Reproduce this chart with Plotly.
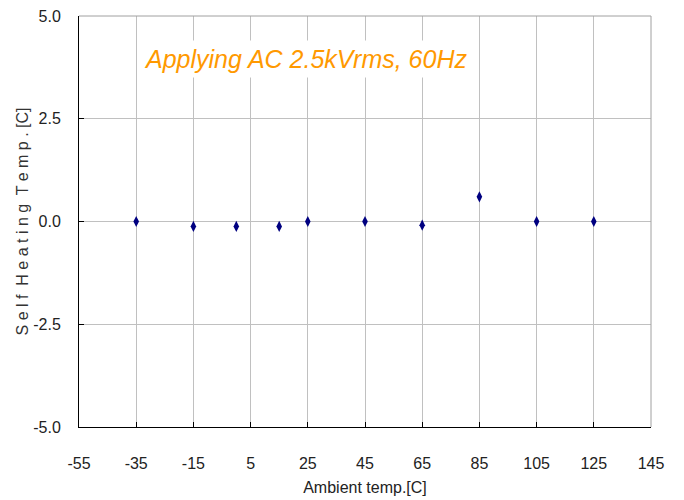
import plotly.graph_objects as go

ambient_temp = [-35, -15, 0, 15, 25, 45, 65, 85, 105, 125]
self_heating = [0.0, -0.12, -0.12, -0.12, 0.0, 0.0, -0.09, 0.6, 0.0, 0.0]
x_ticks = [-55, -35, -15, 5, 25, 45, 65, 85, 105, 125, 145]
y_ticks = [-5.0, -2.5, 0.0, 2.5, 5.0]

narrow = "Liberation Sans Narrow, Arial Narrow, Liberation Sans, sans-serif"
tick_font = dict(family=narrow, size=16, color="#222")

fig = go.Figure()
fig.add_trace(go.Scatter(
    x=ambient_temp, y=self_heating, mode="markers",
    marker=dict(symbol="diamond-tall", size=8, color="#000080"),
    showlegend=False,
))

# page body has an 8px margin, so the figure is 8px smaller and shifted margins
fig.update_layout(
    width=676, height=492,
    margin=dict(l=71, r=33, t=8, b=73),
    paper_bgcolor="white", plot_bgcolor="white",
    xaxis=dict(
        range=[-55, 145], tickvals=x_ticks, ticktext=[str(v) for v in x_ticks],
        showgrid=True, gridcolor="#C0C0C0", gridwidth=1,
        showline=True, linecolor="black", linewidth=1, mirror=False,
        ticks="inside", ticklen=5, tickcolor="black",
        tickfont=tick_font, ticklabelstandoff=22, ticklabeloverflow="allow",
        title=dict(text="Ambient temp.[C]", font=tick_font, standoff=10),
        zeroline=False, automargin=False,
    ),
    yaxis=dict(
        range=[-5, 5], tickvals=y_ticks, ticktext=[f"{v:.1f}" for v in y_ticks],
        showgrid=True, gridcolor="#C0C0C0", gridwidth=1,
        showline=True, linecolor="black", linewidth=1,
        ticks="inside", ticklen=5, tickcolor="black",
        tickfont=tick_font, ticklabelstandoff=14, ticklabeloverflow="allow",
        title=dict(text="S e l f  H e a t i n g  T e m p . [C]",
                   font=dict(family=narrow, size=16, color="#333"),
                   standoff=0),
        zeroline=False, automargin=False,
    ),
    shapes=[
        dict(type="line", xref="paper", yref="paper", x0=0, x1=1, y0=1, y1=1,
             line=dict(color="#A0A0A0", width=1)),
        dict(type="line", xref="paper", yref="paper", x0=1, x1=1, y0=0, y1=1,
             line=dict(color="#A0A0A0", width=1)),
    ],
    annotations=[
        dict(x=-34, y=3.95, xref="x", yref="y", xanchor="left", yanchor="middle",
             text="<i>Applying AC 2.5kVrms, 60Hz</i>", showarrow=False,
             font=dict(family="Liberation Sans, Arial, sans-serif", size=25, color="#FF9900"),
             bgcolor="white", borderpad=4),
    ],
)

fig.write_html("out.html")
